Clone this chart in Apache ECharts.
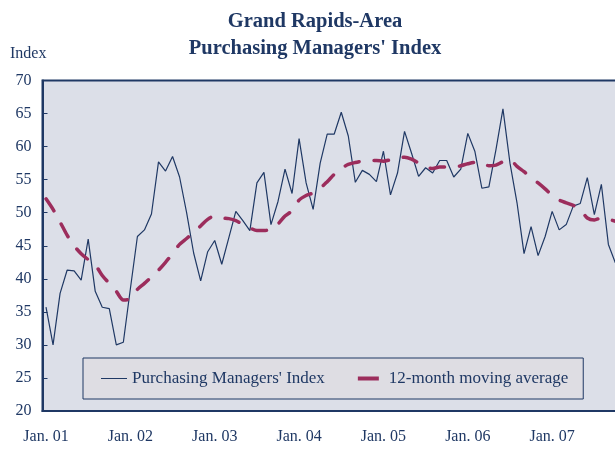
<!DOCTYPE html>
<html>
<head>
<meta charset="utf-8">
<script src="https://cdn.jsdelivr.net/npm/echarts@6/dist/echarts.min.js"></script>
<style>
  html, body { margin: 0; padding: 0; background: #ffffff; }
  #main { width: 615px; height: 449px; }
</style>
</head>
<body>
<div id="main"></div>
<script>
// monthly data, Jan. 01 .. Oct. 07
var years = ['01', '02', '03', '04', '05', '06', '07'];
var months = ['Jan.', 'Feb.', 'Mar.', 'Apr.', 'May', 'Jun.', 'Jul.', 'Aug.', 'Sep.', 'Oct.', 'Nov.', 'Dec.'];

var pmi = [
    35.7, 30.0, 37.8, 41.3, 41.2, 39.8, 46.0, 38.1, 35.7, 35.5, 30.0, 30.4,
    38.5, 46.4, 47.4, 49.8, 57.7, 56.3, 58.5, 55.4, 50.0, 43.9, 39.7, 44.1,
    45.8, 42.2, 46.2, 50.2, 48.8, 47.3, 54.5, 56.1, 48.2, 51.7, 56.6, 52.9,
    61.2, 54.5, 50.5, 57.5, 61.9, 61.9, 65.2, 61.6, 54.6, 56.4, 55.8, 54.7,
    59.3, 52.7, 56.0, 62.3, 59.0, 55.5, 56.8, 56.0, 57.9, 57.9, 55.4, 56.6,
    62.0, 59.3, 53.7, 53.9, 59.5, 65.7, 57.5, 51.5, 43.8, 47.9, 43.5, 46.4,
    50.2, 47.4, 48.2, 51.0, 51.4, 55.3, 49.7, 54.3, 45.2, 42.4
];

var movingAvg = [
    52.1, 50.5, 48.6, 46.6, 45.0, 43.8, 42.9, 42.1, 40.5, 39.3, 38.1, 36.8,
    37.0, 38.4, 39.3, 40.3, 41.3, 42.5, 43.8, 45.2, 46.1, 47.0, 48.0, 49.0,
    49.5, 49.2, 49.1, 48.8, 48.2, 47.7, 47.3, 47.3, 47.5, 48.3, 49.5, 50.3,
    51.9, 52.6, 53.0, 53.7, 54.7, 55.8, 56.7, 57.3, 57.6, 57.8, 57.9, 57.9,
    57.8, 58.0, 58.2, 58.4, 58.1, 57.5, 56.9, 56.7, 56.9, 56.9, 56.9, 57.1,
    57.4, 57.6, 57.6, 57.1, 57.2, 57.7, 58.0, 57.0, 56.2, 55.3, 54.5, 53.6,
    52.6, 51.9, 51.5, 51.1, 50.5, 49.2, 48.9, 49.2, 49.0, 48.7
];

var categories = [];
for (var y = 0; y < years.length; y++) {
    for (var m = 0; m < months.length; m++) {
        categories.push(months[m] + ' ' + years[y]);
    }
}

var navy = '#1f3864';
var maroon = '#9c2d5c';
var serif = 'Liberation Serif';

var myChart = echarts.init(document.getElementById('main'));
var option = {
    backgroundColor: '#ffffff',
    animation: false,
    title: [{
        text: 'Grand Rapids-Area\nPurchasing Managers\' Index',
        left: 315,
        top: 8,
        padding: 0,
        textAlign: 'center',
        textStyle: {
            color: navy,
            fontFamily: serif,
            fontWeight: 'bold',
            fontSize: 20.5,
            lineHeight: 27
        }
    }, {
        text: 'Index',
        left: 10,
        top: 46,
        padding: 0,
        textStyle: {
            color: navy,
            fontFamily: serif,
            fontWeight: 'normal',
            fontSize: 16
        }
    }],
    // plot runs past the right edge of the picture (cut off like the original)
    grid: {
        left: 42.5,
        top: 80.5,
        bottom: 38,
        width: 590.5,
        outerBoundsMode: 'none',
        show: true,
        backgroundColor: '#dcdfe8',
        borderColor: navy,
        borderWidth: 2
    },
    legend: {
        left: 83,
        top: 358,
        padding: [12, 15, 12, 18],
        itemGap: 33,
        itemWidth: 26,
        itemHeight: 10,
        backgroundColor: '#deddE3',
        borderColor: navy,
        borderWidth: 1,
        textStyle: {
            color: navy,
            fontFamily: serif,
            fontSize: 17
        },
        data: [{
            name: 'Purchasing Managers\' Index',
            icon: 'path://M0,0L0,0M0,4.5H26V5.5H0ZM26,10L26,10',
            itemStyle: { color: navy, borderWidth: 0 }
        }, {
            name: '12-month moving average',
            icon: 'path://M0,0L0,0M0,3H21V7H0ZM26,10L26,10',
            itemStyle: { color: maroon, borderWidth: 0 }
        }]
    },
    xAxis: {
        type: 'category',
        data: categories,
        boundaryGap: true,
        axisLine: { lineStyle: { color: navy, width: 2 } },
        axisTick: {
            inside: true,
            interval: 2,
            length: 5,
            lineStyle: { color: navy, width: 1 }
        },
        axisLabel: {
            interval: 11,
            margin: 18,
            color: navy,
            fontFamily: serif,
            fontSize: 16
        },
        splitLine: { show: false }
    },
    yAxis: {
        type: 'value',
        min: 20,
        max: 70,
        interval: 5,
        axisLine: { show: true, lineStyle: { color: navy, width: 2 } },
        axisTick: {
            show: true,
            inside: true,
            length: 5,
            lineStyle: { color: navy, width: 1 }
        },
        axisLabel: {
            margin: 11,
            color: navy,
            fontFamily: serif,
            fontSize: 16
        },
        splitLine: { show: false }
    },
    series: [{
        name: 'Purchasing Managers\' Index',
        type: 'line',
        data: pmi,
        symbol: 'none',
        lineStyle: { color: navy, width: 1.2 },
        itemStyle: { color: navy }
    }, {
        name: '12-month moving average',
        type: 'line',
        data: movingAvg,
        symbol: 'none',
        smooth: 0.3,
        lineStyle: { color: maroon, width: 3.5, type: [14.5, 15], cap: 'round' },
        itemStyle: { color: maroon }
    }]
};
myChart.setOption(option);
</script>
</body>
</html>
